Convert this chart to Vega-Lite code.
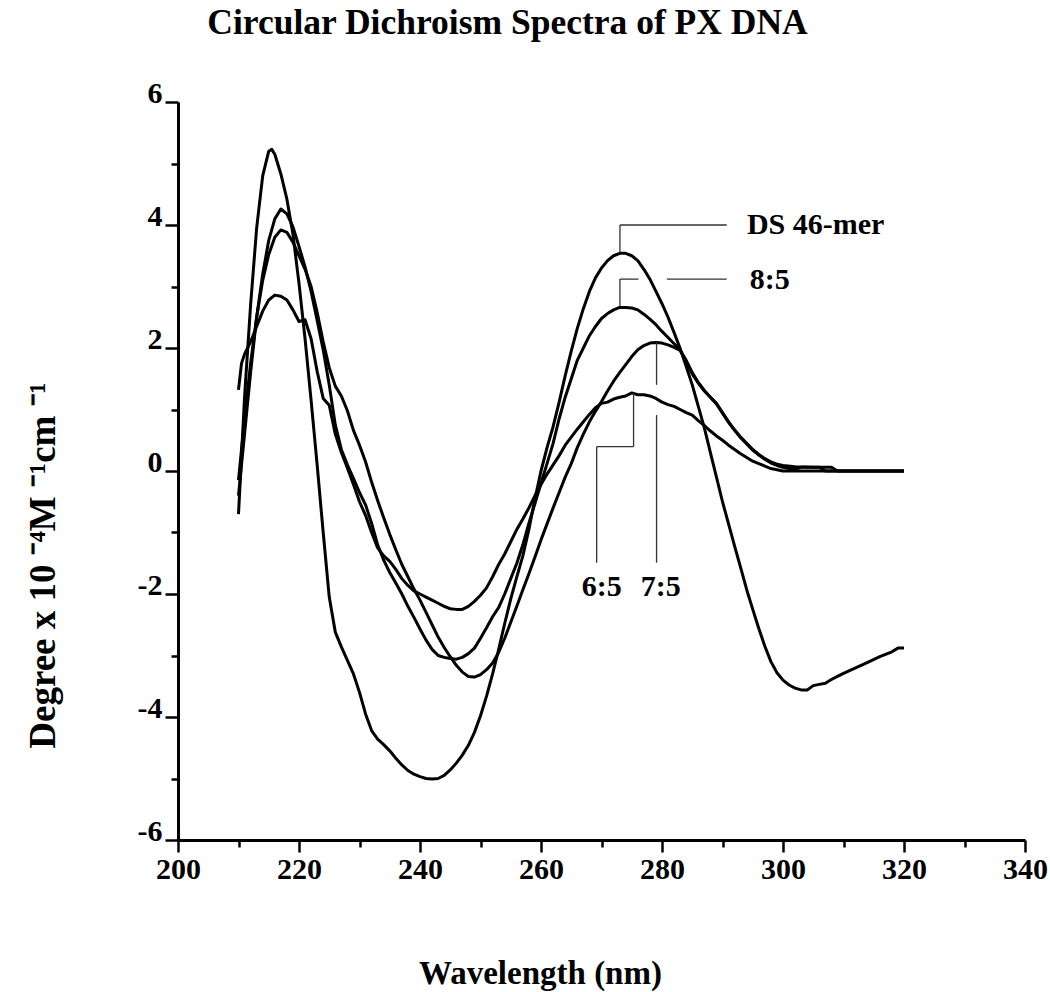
{
  "$schema": "https://vega.github.io/schema/vega-lite/v6.json",
  "width": 847,
  "height": 738,
  "autosize": {"type": "none"},
  "padding": {"left": 178, "top": 102, "right": 25, "bottom": 152},
  "background": "white",
  "config": {"view": {"stroke": null}},
  "datasets": {
    "curves": [
      {"s":"DS","nm":210,"v":-0.7},{"s":"DS","nm":211,"v":1.2},{"s":"DS","nm":212,"v":2.7},{"s":"DS","nm":213,"v":3.95},{"s":"DS","nm":214,"v":4.8},{"s":"DS","nm":215,"v":5.2},{"s":"DS","nm":215.5,"v":5.23},{"s":"DS","nm":216,"v":5.15},{"s":"DS","nm":217,"v":4.83},{"s":"DS","nm":218,"v":4.42},{"s":"DS","nm":219,"v":3.85},{"s":"DS","nm":220,"v":3.05},{"s":"DS","nm":221,"v":2.15},{"s":"DS","nm":222,"v":1.15},{"s":"DS","nm":223,"v":0.1},{"s":"DS","nm":224,"v":-1.0},{"s":"DS","nm":225,"v":-2.05},{"s":"DS","nm":226,"v":-2.62},{"s":"DS","nm":227,"v":-2.86},{"s":"DS","nm":228,"v":-3.08},{"s":"DS","nm":229,"v":-3.3},{"s":"DS","nm":230,"v":-3.6},{"s":"DS","nm":231,"v":-3.95},{"s":"DS","nm":232,"v":-4.22},{"s":"DS","nm":233,"v":-4.36},{"s":"DS","nm":234,"v":-4.45},{"s":"DS","nm":235,"v":-4.55},{"s":"DS","nm":236,"v":-4.67},{"s":"DS","nm":237,"v":-4.78},{"s":"DS","nm":238,"v":-4.87},{"s":"DS","nm":239,"v":-4.93},{"s":"DS","nm":240,"v":-4.97},{"s":"DS","nm":241,"v":-5.0},{"s":"DS","nm":242,"v":-5.01},{"s":"DS","nm":243,"v":-5.0},{"s":"DS","nm":244,"v":-4.95},{"s":"DS","nm":245,"v":-4.86},{"s":"DS","nm":246,"v":-4.75},{"s":"DS","nm":247,"v":-4.62},{"s":"DS","nm":248,"v":-4.46},{"s":"DS","nm":249,"v":-4.25},{"s":"DS","nm":250,"v":-3.98},{"s":"DS","nm":251,"v":-3.66},{"s":"DS","nm":252,"v":-3.3},{"s":"DS","nm":253,"v":-2.9},{"s":"DS","nm":254,"v":-2.48},{"s":"DS","nm":255,"v":-2.08},{"s":"DS","nm":256,"v":-1.72},{"s":"DS","nm":257,"v":-1.38},{"s":"DS","nm":258,"v":-0.95},{"s":"DS","nm":259,"v":-0.45},{"s":"DS","nm":260,"v":0.0},{"s":"DS","nm":261,"v":0.38},{"s":"DS","nm":262,"v":0.72},{"s":"DS","nm":263,"v":1.12},{"s":"DS","nm":264,"v":1.55},{"s":"DS","nm":265,"v":1.95},{"s":"DS","nm":266,"v":2.32},{"s":"DS","nm":267,"v":2.64},{"s":"DS","nm":268,"v":2.92},{"s":"DS","nm":269,"v":3.14},{"s":"DS","nm":270,"v":3.3},{"s":"DS","nm":271,"v":3.42},{"s":"DS","nm":272,"v":3.5},{"s":"DS","nm":273,"v":3.54},{"s":"DS","nm":274,"v":3.54},{"s":"DS","nm":275,"v":3.5},{"s":"DS","nm":276,"v":3.42},{"s":"DS","nm":277,"v":3.28},{"s":"DS","nm":278,"v":3.12},{"s":"DS","nm":279,"v":2.92},{"s":"DS","nm":280,"v":2.72},{"s":"DS","nm":281,"v":2.5},{"s":"DS","nm":282,"v":2.25},{"s":"DS","nm":283,"v":1.99},{"s":"DS","nm":284,"v":1.7},{"s":"DS","nm":285,"v":1.4},{"s":"DS","nm":286,"v":1.05},{"s":"DS","nm":287,"v":0.7},{"s":"DS","nm":288,"v":0.3},{"s":"DS","nm":289,"v":-0.1},{"s":"DS","nm":290,"v":-0.5},{"s":"DS","nm":291,"v":-0.86},{"s":"DS","nm":292,"v":-1.22},{"s":"DS","nm":293,"v":-1.57},{"s":"DS","nm":294,"v":-1.93},{"s":"DS","nm":295,"v":-2.25},{"s":"DS","nm":296,"v":-2.56},{"s":"DS","nm":297,"v":-2.85},{"s":"DS","nm":298,"v":-3.1},{"s":"DS","nm":299,"v":-3.28},{"s":"DS","nm":300,"v":-3.4},{"s":"DS","nm":301,"v":-3.48},{"s":"DS","nm":302,"v":-3.53},{"s":"DS","nm":303,"v":-3.56},{"s":"DS","nm":304,"v":-3.56},{"s":"DS","nm":305,"v":-3.49},{"s":"DS","nm":306,"v":-3.47},{"s":"DS","nm":307,"v":-3.45},{"s":"DS","nm":308,"v":-3.39},{"s":"DS","nm":309,"v":-3.34},{"s":"DS","nm":310,"v":-3.29},{"s":"DS","nm":312,"v":-3.2},{"s":"DS","nm":314,"v":-3.11},{"s":"DS","nm":316,"v":-3.02},{"s":"DS","nm":318,"v":-2.94},{"s":"DS","nm":319,"v":-2.88},{"s":"DS","nm":320,"v":-2.88},

      {"s":"8:5","nm":210,"v":-0.4},{"s":"8:5","nm":211,"v":0.6},{"s":"8:5","nm":212,"v":1.6},{"s":"8:5","nm":213,"v":2.5},{"s":"8:5","nm":214,"v":3.2},{"s":"8:5","nm":215,"v":3.75},{"s":"8:5","nm":216,"v":4.1},{"s":"8:5","nm":217,"v":4.26},{"s":"8:5","nm":218,"v":4.18},{"s":"8:5","nm":219,"v":3.97},{"s":"8:5","nm":220,"v":3.65},{"s":"8:5","nm":221,"v":3.32},{"s":"8:5","nm":222,"v":2.92},{"s":"8:5","nm":223,"v":2.45},{"s":"8:5","nm":224,"v":1.97},{"s":"8:5","nm":225,"v":1.4},{"s":"8:5","nm":226,"v":0.75},{"s":"8:5","nm":227,"v":0.35},{"s":"8:5","nm":228,"v":0.1},{"s":"8:5","nm":229,"v":-0.12},{"s":"8:5","nm":230,"v":-0.35},{"s":"8:5","nm":231,"v":-0.55},{"s":"8:5","nm":232,"v":-0.85},{"s":"8:5","nm":233,"v":-1.2},{"s":"8:5","nm":234,"v":-1.45},{"s":"8:5","nm":235,"v":-1.65},{"s":"8:5","nm":236,"v":-1.82},{"s":"8:5","nm":237,"v":-2.0},{"s":"8:5","nm":238,"v":-2.2},{"s":"8:5","nm":239,"v":-2.38},{"s":"8:5","nm":240,"v":-2.57},{"s":"8:5","nm":241,"v":-2.75},{"s":"8:5","nm":242,"v":-2.9},{"s":"8:5","nm":243,"v":-3.0},{"s":"8:5","nm":244,"v":-3.03},{"s":"8:5","nm":245,"v":-3.05},{"s":"8:5","nm":246,"v":-3.06},{"s":"8:5","nm":247,"v":-3.03},{"s":"8:5","nm":248,"v":-2.97},{"s":"8:5","nm":249,"v":-2.88},{"s":"8:5","nm":250,"v":-2.72},{"s":"8:5","nm":251,"v":-2.55},{"s":"8:5","nm":252,"v":-2.37},{"s":"8:5","nm":253,"v":-2.22},{"s":"8:5","nm":254,"v":-2.0},{"s":"8:5","nm":255,"v":-1.75},{"s":"8:5","nm":256,"v":-1.5},{"s":"8:5","nm":257,"v":-1.2},{"s":"8:5","nm":258,"v":-0.85},{"s":"8:5","nm":259,"v":-0.53},{"s":"8:5","nm":260,"v":-0.2},{"s":"8:5","nm":261,"v":0.12},{"s":"8:5","nm":262,"v":0.45},{"s":"8:5","nm":263,"v":0.85},{"s":"8:5","nm":264,"v":1.2},{"s":"8:5","nm":265,"v":1.5},{"s":"8:5","nm":266,"v":1.8},{"s":"8:5","nm":267,"v":2.0},{"s":"8:5","nm":268,"v":2.2},{"s":"8:5","nm":269,"v":2.35},{"s":"8:5","nm":270,"v":2.48},{"s":"8:5","nm":271,"v":2.56},{"s":"8:5","nm":272,"v":2.62},{"s":"8:5","nm":273,"v":2.66},{"s":"8:5","nm":274,"v":2.66},{"s":"8:5","nm":275,"v":2.65},{"s":"8:5","nm":276,"v":2.62},{"s":"8:5","nm":277,"v":2.55},{"s":"8:5","nm":278,"v":2.47},{"s":"8:5","nm":279,"v":2.38},{"s":"8:5","nm":280,"v":2.27},{"s":"8:5","nm":281,"v":2.17},{"s":"8:5","nm":282,"v":2.07},{"s":"8:5","nm":283,"v":1.97},{"s":"8:5","nm":284,"v":1.78},{"s":"8:5","nm":285,"v":1.58},{"s":"8:5","nm":286,"v":1.43},{"s":"8:5","nm":287,"v":1.3},{"s":"8:5","nm":288,"v":1.2},{"s":"8:5","nm":289,"v":1.1},{"s":"8:5","nm":290,"v":0.95},{"s":"8:5","nm":291,"v":0.8},{"s":"8:5","nm":292,"v":0.67},{"s":"8:5","nm":293,"v":0.55},{"s":"8:5","nm":294,"v":0.45},{"s":"8:5","nm":295,"v":0.35},{"s":"8:5","nm":296,"v":0.27},{"s":"8:5","nm":297,"v":0.2},{"s":"8:5","nm":298,"v":0.15},{"s":"8:5","nm":299,"v":0.11},{"s":"8:5","nm":300,"v":0.09},{"s":"8:5","nm":302,"v":0.07},{"s":"8:5","nm":305,"v":0.06},{"s":"8:5","nm":308,"v":0.06},{"s":"8:5","nm":309,"v":0.0},{"s":"8:5","nm":320,"v":0.0},

      {"s":"7:5","nm":210,"v":-0.15},{"s":"7:5","nm":211,"v":0.85},{"s":"7:5","nm":212,"v":1.75},{"s":"7:5","nm":213,"v":2.5},{"s":"7:5","nm":214,"v":3.1},{"s":"7:5","nm":215,"v":3.52},{"s":"7:5","nm":216,"v":3.8},{"s":"7:5","nm":217,"v":3.92},{"s":"7:5","nm":218,"v":3.88},{"s":"7:5","nm":219,"v":3.72},{"s":"7:5","nm":220,"v":3.5},{"s":"7:5","nm":221,"v":3.28},{"s":"7:5","nm":222,"v":3.0},{"s":"7:5","nm":223,"v":2.58},{"s":"7:5","nm":224,"v":2.1},{"s":"7:5","nm":225,"v":1.68},{"s":"7:5","nm":226,"v":1.38},{"s":"7:5","nm":227,"v":1.22},{"s":"7:5","nm":228,"v":0.98},{"s":"7:5","nm":229,"v":0.66},{"s":"7:5","nm":230,"v":0.42},{"s":"7:5","nm":231,"v":0.15},{"s":"7:5","nm":232,"v":-0.18},{"s":"7:5","nm":233,"v":-0.48},{"s":"7:5","nm":234,"v":-0.76},{"s":"7:5","nm":235,"v":-1.03},{"s":"7:5","nm":236,"v":-1.28},{"s":"7:5","nm":237,"v":-1.52},{"s":"7:5","nm":238,"v":-1.72},{"s":"7:5","nm":239,"v":-1.92},{"s":"7:5","nm":240,"v":-2.1},{"s":"7:5","nm":241,"v":-2.3},{"s":"7:5","nm":242,"v":-2.5},{"s":"7:5","nm":243,"v":-2.7},{"s":"7:5","nm":244,"v":-2.87},{"s":"7:5","nm":245,"v":-3.02},{"s":"7:5","nm":246,"v":-3.16},{"s":"7:5","nm":247,"v":-3.27},{"s":"7:5","nm":248,"v":-3.34},{"s":"7:5","nm":249,"v":-3.35},{"s":"7:5","nm":250,"v":-3.31},{"s":"7:5","nm":251,"v":-3.23},{"s":"7:5","nm":252,"v":-3.12},{"s":"7:5","nm":253,"v":-2.95},{"s":"7:5","nm":254,"v":-2.72},{"s":"7:5","nm":255,"v":-2.46},{"s":"7:5","nm":256,"v":-2.2},{"s":"7:5","nm":257,"v":-1.93},{"s":"7:5","nm":258,"v":-1.67},{"s":"7:5","nm":259,"v":-1.4},{"s":"7:5","nm":260,"v":-1.12},{"s":"7:5","nm":261,"v":-0.86},{"s":"7:5","nm":262,"v":-0.6},{"s":"7:5","nm":263,"v":-0.35},{"s":"7:5","nm":264,"v":-0.1},{"s":"7:5","nm":265,"v":0.12},{"s":"7:5","nm":266,"v":0.38},{"s":"7:5","nm":267,"v":0.6},{"s":"7:5","nm":268,"v":0.8},{"s":"7:5","nm":269,"v":0.97},{"s":"7:5","nm":270,"v":1.13},{"s":"7:5","nm":271,"v":1.3},{"s":"7:5","nm":272,"v":1.46},{"s":"7:5","nm":273,"v":1.6},{"s":"7:5","nm":274,"v":1.73},{"s":"7:5","nm":275,"v":1.86},{"s":"7:5","nm":276,"v":1.97},{"s":"7:5","nm":277,"v":2.04},{"s":"7:5","nm":278,"v":2.08},{"s":"7:5","nm":279,"v":2.09},{"s":"7:5","nm":280,"v":2.08},{"s":"7:5","nm":281,"v":2.05},{"s":"7:5","nm":282,"v":2.01},{"s":"7:5","nm":283,"v":1.96},{"s":"7:5","nm":284,"v":1.8},{"s":"7:5","nm":285,"v":1.6},{"s":"7:5","nm":286,"v":1.44},{"s":"7:5","nm":287,"v":1.31},{"s":"7:5","nm":288,"v":1.2},{"s":"7:5","nm":289,"v":1.09},{"s":"7:5","nm":290,"v":0.94},{"s":"7:5","nm":291,"v":0.79},{"s":"7:5","nm":292,"v":0.66},{"s":"7:5","nm":293,"v":0.54},{"s":"7:5","nm":294,"v":0.44},{"s":"7:5","nm":295,"v":0.34},{"s":"7:5","nm":296,"v":0.26},{"s":"7:5","nm":297,"v":0.19},{"s":"7:5","nm":298,"v":0.13},{"s":"7:5","nm":299,"v":0.09},{"s":"7:5","nm":300,"v":0.06},{"s":"7:5","nm":301,"v":0.04},{"s":"7:5","nm":302,"v":0.03},{"s":"7:5","nm":303,"v":0.06},{"s":"7:5","nm":306,"v":0.06},{"s":"7:5","nm":307,"v":0.0},{"s":"7:5","nm":320,"v":0.0},

      {"s":"6:5","nm":210,"v":1.32},{"s":"6:5","nm":210.5,"v":1.75},{"s":"6:5","nm":211,"v":1.9},{"s":"6:5","nm":212,"v":2.1},{"s":"6:5","nm":213,"v":2.35},{"s":"6:5","nm":214,"v":2.6},{"s":"6:5","nm":215,"v":2.78},{"s":"6:5","nm":216,"v":2.86},{"s":"6:5","nm":217,"v":2.84},{"s":"6:5","nm":218,"v":2.78},{"s":"6:5","nm":219,"v":2.62},{"s":"6:5","nm":220,"v":2.43},{"s":"6:5","nm":221,"v":2.46},{"s":"6:5","nm":222,"v":2.15},{"s":"6:5","nm":223,"v":1.62},{"s":"6:5","nm":224,"v":1.18},{"s":"6:5","nm":225,"v":1.07},{"s":"6:5","nm":226,"v":0.6},{"s":"6:5","nm":227,"v":0.3},{"s":"6:5","nm":228,"v":0.05},{"s":"6:5","nm":229,"v":-0.22},{"s":"6:5","nm":230,"v":-0.5},{"s":"6:5","nm":231,"v":-0.72},{"s":"6:5","nm":232,"v":-1.0},{"s":"6:5","nm":233,"v":-1.25},{"s":"6:5","nm":234,"v":-1.38},{"s":"6:5","nm":235,"v":-1.47},{"s":"6:5","nm":236,"v":-1.6},{"s":"6:5","nm":237,"v":-1.75},{"s":"6:5","nm":238,"v":-1.86},{"s":"6:5","nm":239,"v":-1.95},{"s":"6:5","nm":240,"v":-2.0},{"s":"6:5","nm":241,"v":-2.05},{"s":"6:5","nm":242,"v":-2.1},{"s":"6:5","nm":243,"v":-2.15},{"s":"6:5","nm":244,"v":-2.2},{"s":"6:5","nm":245,"v":-2.24},{"s":"6:5","nm":246,"v":-2.25},{"s":"6:5","nm":247,"v":-2.25},{"s":"6:5","nm":248,"v":-2.2},{"s":"6:5","nm":249,"v":-2.12},{"s":"6:5","nm":250,"v":-2.02},{"s":"6:5","nm":251,"v":-1.9},{"s":"6:5","nm":252,"v":-1.72},{"s":"6:5","nm":253,"v":-1.52},{"s":"6:5","nm":254,"v":-1.35},{"s":"6:5","nm":255,"v":-1.15},{"s":"6:5","nm":256,"v":-0.95},{"s":"6:5","nm":257,"v":-0.78},{"s":"6:5","nm":258,"v":-0.6},{"s":"6:5","nm":259,"v":-0.4},{"s":"6:5","nm":260,"v":-0.22},{"s":"6:5","nm":261,"v":-0.05},{"s":"6:5","nm":262,"v":0.1},{"s":"6:5","nm":263,"v":0.25},{"s":"6:5","nm":264,"v":0.42},{"s":"6:5","nm":265,"v":0.55},{"s":"6:5","nm":266,"v":0.68},{"s":"6:5","nm":267,"v":0.8},{"s":"6:5","nm":268,"v":0.92},{"s":"6:5","nm":269,"v":1.03},{"s":"6:5","nm":270,"v":1.1},{"s":"6:5","nm":271,"v":1.12},{"s":"6:5","nm":272,"v":1.17},{"s":"6:5","nm":273,"v":1.2},{"s":"6:5","nm":274,"v":1.22},{"s":"6:5","nm":275,"v":1.27},{"s":"6:5","nm":276,"v":1.24},{"s":"6:5","nm":277,"v":1.24},{"s":"6:5","nm":278,"v":1.22},{"s":"6:5","nm":279,"v":1.18},{"s":"6:5","nm":280,"v":1.12},{"s":"6:5","nm":281,"v":1.08},{"s":"6:5","nm":282,"v":1.05},{"s":"6:5","nm":283,"v":1.0},{"s":"6:5","nm":284,"v":0.95},{"s":"6:5","nm":285,"v":0.91},{"s":"6:5","nm":286,"v":0.82},{"s":"6:5","nm":287,"v":0.74},{"s":"6:5","nm":288,"v":0.65},{"s":"6:5","nm":289,"v":0.57},{"s":"6:5","nm":290,"v":0.5},{"s":"6:5","nm":291,"v":0.42},{"s":"6:5","nm":292,"v":0.35},{"s":"6:5","nm":293,"v":0.28},{"s":"6:5","nm":294,"v":0.22},{"s":"6:5","nm":295,"v":0.16},{"s":"6:5","nm":296,"v":0.12},{"s":"6:5","nm":297,"v":0.08},{"s":"6:5","nm":298,"v":0.04},{"s":"6:5","nm":299,"v":0.02},{"s":"6:5","nm":300,"v":0.0},{"s":"6:5","nm":320,"v":0.0}
    ],
    "leaders": [
      {"x":273.05,"x2":273.05,"y":3.55,"y2":4.0},
      {"x":273.05,"x2":290.7,"y":4.0,"y2":4.0},
      {"x":273.05,"x2":273.05,"y":2.68,"y2":3.12},
      {"x":273.05,"x2":276.1,"y":3.12,"y2":3.12},
      {"x":280.8,"x2":290.7,"y":3.12,"y2":3.12},
      {"x":275.3,"x2":275.3,"y":1.27,"y2":0.395},
      {"x":269.2,"x2":275.3,"y":0.395,"y2":0.395},
      {"x":269.2,"x2":269.2,"y":0.395,"y2":-1.49},
      {"x":279.1,"x2":279.1,"y":2.09,"y2":1.4},
      {"x":279.1,"x2":279.1,"y":0.91,"y2":-1.49}
    ],
    "labels": [
      {"label":"DS 46-mer","x":305.4,"y":4.0},
      {"label":"8:5","x":297.8,"y":3.11},
      {"label":"6:5","x":270.05,"y":-1.89},
      {"label":"7:5","x":279.8,"y":-1.89}
    ]
  },
  "resolve": {"axis": {"x": "independent", "y": "independent"}},
  "layer": [
    {
      "data": {"name": "curves"},
      "mark": {"type": "line", "color": "black", "strokeWidth": 3, "strokeJoin": "round"},
      "encoding": {
        "x": {"field": "nm", "type": "quantitative", "scale": {"domain": [200, 340], "nice": false, "zero": false},
          "axis": {"orient": "bottom", "values": [200,220,240,260,280,300,320,340], "labelExpr": "toString(datum.value)", "grid": false,
            "domain": true, "domainColor": "black", "domainWidth": 3, "tickColor": "black", "tickWidth": 2.5, "tickSize": 12,
            "labelFont": "Liberation Serif", "labelFontSize": 30, "labelFontWeight": "bold", "labelColor": "black", "labelPadding": 2,
            "labelFlush": false, "labelOverlap": false,
            "title": "Wavelength (nm)", "titleFont": "Liberation Serif", "titleFontSize": 33, "titleFontWeight": "bold", "titleColor": "black",
            "titleX": 362, "titleY": 143, "titleAlign": "center", "titleBaseline": "alphabetic"}},
        "y": {"field": "v", "type": "quantitative", "scale": {"domain": [-6, 6], "nice": false, "zero": false},
          "axis": {"orient": "left", "values": [-6,-4,-2,0,2,4,6], "labelExpr": "toString(datum.value)", "grid": false,
            "domain": true, "domainColor": "black", "domainWidth": 3, "tickColor": "black", "tickWidth": 2.5, "tickSize": 13,
            "labelFont": "Liberation Serif", "labelFontSize": 30, "labelFontWeight": "bold", "labelColor": "black", "labelPadding": 3,
            "labelBaseline": "alphabetic", "labelFlush": false, "labelOverlap": false,
            "title": "Degree x 10 ⁻⁴M ⁻¹cm   ⁻¹", "titleFont": "Liberation Serif", "titleFontSize": 37, "titleFontWeight": "bold", "titleColor": "black",
            "titleAngle": -90, "titleX": -135, "titleY": 463, "titleAlign": "center", "titleBaseline": "middle"}},
        "detail": {"field": "s", "type": "nominal"}
      }
    },
    {
      "data": {"name": "leaders"},
      "mark": {"type": "rule", "color": "#333333", "strokeWidth": 1.3},
      "encoding": {
        "x": {"field": "x", "type": "quantitative", "scale": {"domain": [200, 340], "nice": false, "zero": false},
          "axis": {"orient": "bottom", "values": [210,230,250,270,290,310,330], "labels": false, "domain": false, "grid": false,
            "tickColor": "black", "tickWidth": 2.5, "tickSize": 7, "title": null}},
        "x2": {"field": "x2"},
        "y": {"field": "y", "type": "quantitative", "scale": {"domain": [-6, 6], "nice": false, "zero": false},
          "axis": {"orient": "left", "values": [-5,-3,-1,1,3,5], "labels": false, "domain": false, "grid": false,
            "tickColor": "black", "tickWidth": 2.5, "tickSize": 7, "title": null}},
        "y2": {"field": "y2"}
      }
    },
    {
      "data": {"name": "labels"},
      "mark": {"type": "text", "font": "Liberation Serif", "fontSize": 30, "fontWeight": "bold", "color": "black", "align": "center", "baseline": "middle"},
      "encoding": {
        "x": {"field": "x", "type": "quantitative", "scale": {"domain": [200, 340], "nice": false, "zero": false},
          "axis": {"orient": "top", "values": [], "labels": false, "ticks": false, "domain": false, "grid": false,
            "title": "Circular Dichroism Spectra of PX DNA", "titleFont": "Liberation Serif", "titleFontSize": 35.5, "titleFontWeight": "bold", "titleColor": "black",
            "titleX": 329, "titleY": -69, "titleAlign": "center", "titleBaseline": "alphabetic"}},
        "y": {"field": "y", "type": "quantitative", "scale": {"domain": [-6, 6], "nice": false, "zero": false}, "axis": null},
        "text": {"field": "label"}
      }
    }
  ]
}
